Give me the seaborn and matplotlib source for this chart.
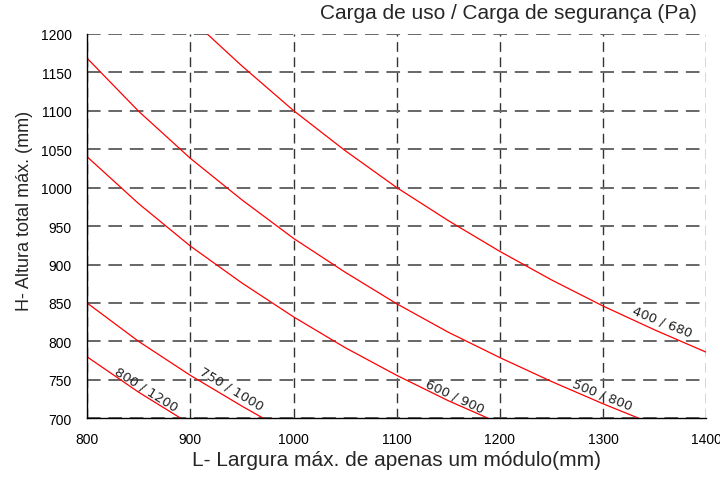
import pandas as pd
import matplotlib.pyplot as plt
import seaborn as sns

# values (L in mm, H in mm)
l_400 = [916, 950, 1000, 1050, 1100, 1150, 1200, 1250, 1300, 1350, 1400]
h_400 = [1200, 1158, 1100, 1048, 1000, 957, 917, 880, 846, 815, 786]

l_500 = [800, 850, 900, 950, 1000, 1050, 1100, 1150, 1200, 1250, 1300, 1335]
h_500 = [1168, 1099, 1038, 984, 934, 890, 849, 812, 779, 748, 719, 700]

l_600 = [800, 850, 900, 950, 1000, 1050, 1100, 1150, 1189]
h_600 = [1040, 979, 924, 876, 832, 792, 756, 723, 700]

l_750 = [800, 850, 900, 950, 971]
h_750 = [850, 800, 756, 716, 700]

l_800 = [800, 850, 891]
h_800 = [780, 734, 700]

labels = ['400 / 680', '500 / 800', '600 / 900', '750 / 1000', '800 / 1200']
# label anchor (L, H) and angle, one per curve
label_x = [1357, 1299, 1156, 940, 857]
label_y = [826, 731, 729, 739, 739]
label_rot = [-22, -22, -25, -31, -32]

frames = []
for name, l, h in zip(labels, [l_400, l_500, l_600, l_750, l_800],
                      [h_400, h_500, h_600, h_750, h_800]):
    frames.append(pd.DataFrame({'L': l, 'H': h, 'carga': name}))
df = pd.concat(frames, ignore_index=True)

sns.set_theme(style="white")
plt.rcParams['font.family'] = ['Liberation Sans', 'DejaVu Sans']

fig = plt.figure(figsize=(7.2, 4.81), dpi=100)
ax = fig.add_axes([0.121, 0.128, 0.860, 0.800])

sns.lineplot(data=df, x='L', y='H', units='carga', estimator=None,
             color='#ff0000', linewidth=0.9, sort=False, ax=ax)

for t, x, y, r in zip(labels, label_x, label_y, label_rot):
    ax.text(x, y, t, rotation=r, ha='center', va='center', fontsize=9.5,
            family='DejaVu Sans', color='#222222', rotation_mode='anchor')

ax.set_xlim(800, 1400)
ax.set_ylim(700, 1200)
ax.set_xticks(range(800, 1401, 100))
ax.set_yticks(range(700, 1201, 50))

ax.xaxis.grid(True, color='#333333', linestyle=(0, (7, 4)), linewidth=1.0)
ax.yaxis.grid(True, color='#666666', linestyle=(0, (7, 4)), linewidth=1.4)
ax.set_axisbelow(True)

for s in ['top', 'right']:
    ax.spines[s].set_visible(False)
for s in ['left', 'bottom']:
    ax.spines[s].set_color('black')
    ax.spines[s].set_linewidth(1.0)
    ax.spines[s].set_zorder(5)

ax.tick_params(axis='both', length=0, labelsize=10, colors='black')
ax.tick_params(axis='x', pad=10)
ax.tick_params(axis='y', pad=11)

ax.set_xlabel('L- Largura máx. de apenas um módulo(mm)', fontsize=15, labelpad=3)
ax.set_ylabel('H- Altura total máx. (mm)', fontsize=13)
ax.yaxis.set_label_coords(-0.088, 0.542)
ax.text(0.984, 1.055, 'Carga de uso / Carga de segurança (Pa)', transform=ax.transAxes,
        ha='right', va='center', fontsize=15)

plt.savefig('out.png', dpi=100)
